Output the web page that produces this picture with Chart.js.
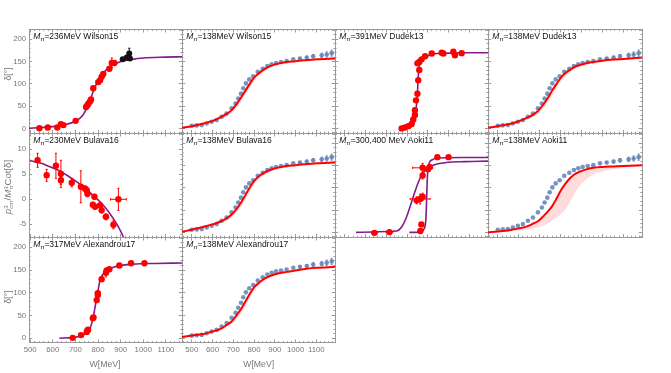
<!DOCTYPE html>
<html>
<head>
<meta charset="utf-8">
<script src="https://cdn.jsdelivr.net/npm/chart.js@4.4.0/dist/chart.umd.min.js"></script>
<style>
html, body { margin: 0; padding: 0; background: #fff; }
#wrap { position: relative; width: 671px; height: 373px; overflow: hidden; font-family: "Liberation Sans", Arial, sans-serif; }
#wrap canvas { position: absolute; left: 0; top: 0; }
.ttl { position: absolute; font-size: 8.5px; color: #111; white-space: nowrap; line-height: 1; }
.ttl sub { font-size: 70%; vertical-align: -2px; line-height: 0; }
.ax { position: absolute; font-size: 8.7px; color: #777; white-space: nowrap; line-height: 1; transform: translate(-50%, -50%); }
.ax.rot { transform: translate(-50%, -50%) rotate(-90deg); }
.ax.big { font-size: 9.6px; }
.ss { display: inline-block; vertical-align: -0.3em; line-height: 0.8; font-size: 65%; }
.ss span { display: block; }
</style>
</head>
<body>
<div id="wrap"></div>
<script>
// grid of frames (px)
var colEdges = [29, 182, 335, 488, 642];
var rowEdges = [29.3, 133.3, 237.3, 342.7];
var yLabelBox = 25, xLabelBox = 20;

// axis ranges
var wRangeCol1 = [495, 1171];
var wRangeOther = [453, 1190];
var deltaRangeUpper = [-11, 222.5];
var deltaRangeLower = [-9.7, 222];
var cotRange = [-7.6, 13.2];

// Wilson15, M_pi = 236 MeV
var wilsonW = [541, 578, 620, 636, 647, 701, 747, 753, 758, 765, 769, 779, 801, 809, 816, 823, 850, 861, 872];
var wilsonDelta = [0.5, 2, 2, 9.6, 7.4, 17, 48, 52, 56, 61, 65, 90, 104, 108, 116, 122, 134, 147, 147];
var wilsonErr = [1, 1, 1, 2, 2, 2, 3, 3, 3, 3, 3, 3, 3, 3, 3, 3, 4, 11, 5];
var wilsonHiW = [909, 927, 938, 941];
var wilsonHiDelta = [155, 159, 168, 157];
var wilsonHiErr = [4, 5, 12, 4];
var wilsonFitW = [495, 550, 600, 650, 700, 730, 750, 765, 780, 800, 820, 850, 900, 950, 1000, 1100, 1171];
var wilsonFitDelta = [0.5, 2, 4, 8, 16, 28, 45, 62, 85, 106, 122, 138, 150, 155, 158, 160, 161];

// Dudek13, M_pi = 391 MeV
var dudekW = [774, 790, 806, 822, 830, 838, 838, 843, 850, 854, 859, 850, 859, 870, 887, 919, 967, 975, 1023, 1031, 1063];
var dudekDelta = [0, 2, 5, 10, 20, 30, 41, 63, 78, 108, 131, 146, 149, 155, 162, 168, 170, 168, 172, 164, 169];
var dudekFitW = [766, 790, 814, 834, 843, 850, 854, 858, 862, 870, 887, 910, 943, 1000, 1071, 1190];
var dudekFitDelta = [0, 1, 2, 15, 41, 78, 116, 135, 146, 154, 160, 165, 168, 169, 170, 170];

// Bulava16, M_pi = 230 MeV (p^3/M^3 cot delta)
var bulavaW = [533, 573, 614, 636, 636, 684, 724, 743, 750, 753, 784, 777, 787, 809, 816, 835, 868, 890];
var bulavaCot = [7.8, 4.8, 6.7, 5.1, 3.8, 3.3, 2.5, 2.1, 1.8, 1.1, 0.5, -1.1, -1.5, -1.2, -2.2, -3.5, -5.1, 0];
var bulavaCotErr = [1.4, 1.2, 2.5, 2.7, 0.8, 0.8, 3.2, 0.6, 0.6, 0.6, 0.5, 0.5, 0.5, 0.4, 0.5, 0.6, 0.8, 2.2];
var bulavaWErr = [3, 3, 3, 3, 3, 3, 3, 3, 3, 3, 3, 4, 4, 4, 4, 12, 5, 35];
var bulavaFitW = [499, 550, 588, 630, 662, 700, 735, 770, 809, 840, 868, 890, 912];
var bulavaFitCot = [7.7, 7.2, 6.5, 5.7, 4.8, 3.7, 2.5, 1.1, -0.5, -2.1, -3.9, -5.5, -7.5];

// Aoki11, M_pi = 300 and 400 MeV
var aokiW = [643, 715, 864, 869, 846, 863, 875, 875, 875, 901, 909, 946, 1000];
var aokiDelta = [-1, 0.7, 3, 18, 72, 75, 80, 128, 145, 142, 147, 169, 169];
var aokiDeltaErr = [1, 1, 2, 3, 8, 11, 8, 8, 10, 4, 4, 2, 2];
var aokiWErr = [13, 16, 3, 3, 10, 48, 10, 5, 48, 5, 5, 5, 5];
var aoki300FitW = [554, 637, 700, 750, 774, 798, 814, 830, 849, 870, 894, 926, 990, 1080, 1190];
var aoki300FitDelta = [0, 1, 2, 3, 12, 35, 57, 80, 106, 128, 142, 151, 157, 159, 160];
var aoki400FitW = [811, 862, 883, 891, 894, 897, 901, 917, 958, 1071, 1190];
var aoki400FitDelta = [0, 0.5, 9, 31, 69, 113, 143, 162, 167, 168, 168];

// Alexandrou17, M_pi = 317 MeV
var alexW = [688, 725, 750, 753, 756, 777, 780, 794, 799, 799, 816, 835, 838, 850, 894, 946, 1005];
var alexDelta = [1, 7, 14, 17, 19, 44, 46, 84, 95, 99, 130, 144, 149, 152, 160, 165, 165];
var alexErr = [1, 1, 2, 2, 2, 3, 3, 3, 3, 3, 3, 9, 3, 3, 2, 2, 2];
var alexFitW = [629, 691, 735, 765, 779, 790, 799, 809, 831, 868, 956, 1050, 1171];
var alexFitDelta = [0, 2, 7, 22, 47, 77, 102, 128, 146, 156, 163, 164.5, 165.5];

// experimental data (shown in every M_pi = 138 MeV panel)
var exptW = [500, 524, 548, 572, 596, 620, 644, 668, 692, 711, 724, 737, 748, 761, 777, 796, 818, 842, 864, 885, 906, 930, 957, 989, 1021, 1054, 1085, 1126, 1150, 1174];
var exptDelta = [5.8, 6.7, 7.4, 11, 15, 18.6, 26, 33.6, 45, 56, 67, 78, 90, 101, 110, 117, 127, 134, 140, 144, 147, 149, 151, 155, 157, 159, 162, 164, 166, 169];
var exptErr = [0, 0, 0, 0, 0, 0, 0, 0, 0, 0, 0, 0, 0, 0, 0, 0, 0, 0, 0, 0, 0, 0, 0, 0, 1.5, 3, 4, 5, 6, 7];

// chiral extrapolations to M_pi = 138 MeV
var physW = [453, 500, 556, 600, 636, 670, 692, 715, 740, 760, 781, 800, 821, 850, 877, 920, 957, 1000, 1037, 1100, 1190];
var wilsonPhys = [1.3, 5, 11, 17, 24.6, 33, 41, 54, 71, 86, 101, 114, 123, 133, 140, 146, 149, 151, 153, 155, 157];
var wilsonPhysLo = [1, 4, 9, 14, 20, 27, 34, 45, 61, 77, 92, 106, 117, 128, 136, 143, 147, 149, 151, 154, 156];
var wilsonPhysHi = [1.5, 5.5, 12, 18, 26, 35, 44, 58, 75, 90, 104, 116, 125, 135, 141, 147, 150, 152, 154, 156, 158];
var dudekPhys = [1.5, 5, 10, 16, 23, 31, 39, 52, 69, 85, 100, 113, 123, 133, 140, 146, 149, 152, 154, 156, 159];
var dudekPhysLo = [1, 4, 8, 13, 19, 26, 32, 43, 58, 74, 89, 103, 115, 127, 135, 142, 146, 149, 151, 154, 157];
var dudekPhysHi = [2, 6, 11, 17, 25, 33, 41, 55, 72, 88, 103, 115, 125, 135, 141, 147, 150, 153, 155, 157, 160];
var bulavaPhys = [1.3, 6, 12.5, 18, 24, 32, 40, 52, 69, 85, 102, 115, 125, 134, 140, 146, 149, 151, 153, 155, 157];
var bulavaPhysLo = [1, 5, 10, 15, 20, 27, 34, 44, 59, 75, 93, 107, 119, 129, 136, 143, 147, 149, 151, 154, 156];
var bulavaPhysHi = [1.6, 6.5, 13, 19, 26, 34, 43, 56, 73, 89, 105, 117, 127, 136, 141, 147, 150, 152, 154, 156, 158];
var aokiPhys = [0, 2, 5, 9, 13, 20, 25, 35, 47, 59, 76, 93, 108, 124, 133, 141, 145, 147, 148, 149, 151];
var aokiPhysLo = [0, 1, 2, 4, 6, 9, 11, 15, 20, 26, 33, 41, 50, 72, 95, 118, 130, 136, 140, 145, 148];
var aokiPhysHi = [0.5, 2.5, 6, 10, 14, 21, 27, 37, 50, 62, 79, 96, 110, 126, 135, 142, 146, 148, 149, 150, 152];
var alexPhys = [3, 6, 9.5, 15, 20, 30, 37, 50, 66, 82, 99, 112, 121, 131, 137, 143, 146, 149, 152, 155, 157];
var alexPhysLo = [2.5, 5, 8, 13, 17, 25, 31, 42, 56, 72, 90, 104, 115, 126, 134, 141, 145, 148, 151, 154, 156];
var alexPhysHi = [3.5, 6.5, 10.5, 16, 22, 32, 40, 54, 70, 86, 102, 114, 123, 133, 138, 144, 147, 150, 153, 156, 158];

var RED = '#ff0000', PURPLE = '#861a8c', BLACK = '#111111', BLUE = 'rgba(94,129,181,0.85)';
var FRAME = '#9a9a9a', TICKTXT = '#777777';

Chart.defaults.font.family = '"Liberation Sans", Arial, sans-serif';

function pts(ws, vs) {
	return ws.map(function (w, i) { return {x: w, y: vs[i]}; });
}
function curve(ws, vs, color, width, order) {
	return [{data: pts(ws, vs), showLine: true, borderColor: color, borderWidth: width, pointRadius: 0,
		cubicInterpolationMode: 'monotone', fill: false, order: order}];
}
function dots(ws, vs, color, r, order) {
	return [{data: pts(ws, vs), showLine: false, pointRadius: r, pointBackgroundColor: color,
		pointBorderWidth: 0, pointBorderColor: color, order: order}];
}
// error bars as line segments separated by gaps
function vbars(ws, vs, es, color, cap, order) {
	var d = [];
	for (var i = 0; i < ws.length; i++) {
		if (!es[i]) continue;
		d.push({x: ws[i], y: vs[i] - es[i]}, {x: ws[i], y: vs[i] + es[i]}, {x: ws[i], y: null});
		d.push({x: ws[i] - cap, y: vs[i] + es[i]}, {x: ws[i] + cap, y: vs[i] + es[i]}, {x: ws[i], y: null});
		d.push({x: ws[i] - cap, y: vs[i] - es[i]}, {x: ws[i] + cap, y: vs[i] - es[i]}, {x: ws[i], y: null});
	}
	return [{data: d, showLine: true, spanGaps: false, borderColor: color, borderWidth: 1, pointRadius: 0, order: order}];
}
function hbars(ws, vs, es, color, cap, order) {
	var d = [];
	for (var i = 0; i < ws.length; i++) {
		if (!es[i]) continue;
		d.push({x: ws[i] - es[i], y: vs[i]}, {x: ws[i] + es[i], y: vs[i]}, {x: ws[i], y: null});
		d.push({x: ws[i] - es[i], y: vs[i] - cap}, {x: ws[i] - es[i], y: vs[i] + cap}, {x: ws[i], y: null});
		d.push({x: ws[i] + es[i], y: vs[i] - cap}, {x: ws[i] + es[i], y: vs[i] + cap}, {x: ws[i], y: null});
	}
	return [{data: d, showLine: true, spanGaps: false, borderColor: color, borderWidth: 1, pointRadius: 0, order: order}];
}
function band(ws, lo, hi, order) {
	return [
		{data: pts(ws, lo), showLine: true, borderWidth: 0, borderColor: 'transparent', pointRadius: 0,
			cubicInterpolationMode: 'monotone', fill: false, order: order},
		{data: pts(ws, hi), showLine: true, borderWidth: 0, borderColor: 'transparent', pointRadius: 0,
			cubicInterpolationMode: 'monotone', fill: '-1', backgroundColor: 'rgba(255,40,40,0.16)', order: order}
	];
}
function physSets(fit, lo, hi) {
	return [].concat(
		band(physW, lo, hi, 6),
		vbars(exptW, exptDelta, exptErr, BLUE, 5, 4),
		dots(exptW, exptDelta, BLUE, 2.3, 3),
		curve(physW, fit, RED, 2, 1)
	);
}

var panels = [
	{col: 0, row: 0, wr: wRangeCol1, yr: deltaRangeUpper, yStep: 50, xLab: false, yLab: true, title: '236MeV Wilson15',
		sets: [].concat(dots(wilsonW, wilsonDelta, RED, 3.2, 1), vbars(wilsonW, wilsonDelta, wilsonErr, RED, 5, 2),
			dots(wilsonHiW, wilsonHiDelta, BLACK, 3, 1), vbars(wilsonHiW, wilsonHiDelta, wilsonHiErr, BLACK, 5, 2),
			curve(wilsonFitW, wilsonFitDelta, PURPLE, 1.6, 3))},
	{col: 1, row: 0, wr: wRangeOther, yr: deltaRangeUpper, yStep: 50, xLab: false, yLab: false, title: '138MeV Wilson15',
		sets: physSets(wilsonPhys, wilsonPhysLo, wilsonPhysHi)},
	{col: 2, row: 0, wr: wRangeOther, yr: deltaRangeUpper, yStep: 50, xLab: false, yLab: false, title: '391MeV Dudek13',
		sets: [].concat(dots(dudekW, dudekDelta, RED, 3.2, 1), curve(dudekFitW, dudekFitDelta, PURPLE, 1.6, 3))},
	{col: 3, row: 0, wr: wRangeOther, yr: deltaRangeUpper, yStep: 50, xLab: false, yLab: false, title: '138MeV Dudek13',
		sets: physSets(dudekPhys, dudekPhysLo, dudekPhysHi)},
	{col: 0, row: 1, wr: wRangeCol1, yr: cotRange, yStep: 5, xLab: false, yLab: true, title: '230MeV Bulava16',
		sets: [].concat(dots(bulavaW, bulavaCot, RED, 3.2, 1), vbars(bulavaW, bulavaCot, bulavaCotErr, RED, 5, 2),
			hbars(bulavaW, bulavaCot, bulavaWErr, RED, 0.25, 2), curve(bulavaFitW, bulavaFitCot, PURPLE, 1.6, 3))},
	{col: 1, row: 1, wr: wRangeOther, yr: deltaRangeUpper, yStep: 50, xLab: false, yLab: false, title: '138MeV Bulava16',
		sets: physSets(bulavaPhys, bulavaPhysLo, bulavaPhysHi)},
	{col: 2, row: 1, wr: wRangeOther, yr: deltaRangeUpper, yStep: 50, xLab: false, yLab: false, title: '300,400 MeV Aoki11',
		sets: [].concat(dots(aokiW, aokiDelta, RED, 3.2, 1), vbars(aokiW, aokiDelta, aokiDeltaErr, RED, 5, 2),
			hbars(aokiW, aokiDelta, aokiWErr, RED, 2.5, 2),
			curve(aoki300FitW, aoki300FitDelta, PURPLE, 1.6, 3), curve(aoki400FitW, aoki400FitDelta, PURPLE, 1.6, 3))},
	{col: 3, row: 1, wr: wRangeOther, yr: deltaRangeUpper, yStep: 50, xLab: false, yLab: false, title: '138MeV Aoki11',
		sets: physSets(aokiPhys, aokiPhysLo, aokiPhysHi)},
	{col: 0, row: 2, wr: wRangeCol1, yr: deltaRangeLower, yStep: 50, xLab: true, yLab: true, title: '317MeV Alexandrou17',
		sets: [].concat(dots(alexW, alexDelta, RED, 3.2, 1), vbars(alexW, alexDelta, alexErr, RED, 5, 2),
			curve(alexFitW, alexFitDelta, PURPLE, 1.6, 3))},
	{col: 1, row: 2, wr: wRangeOther, yr: deltaRangeLower, yStep: 50, xLab: true, yLab: false, title: '138MeV Alexandrou17',
		sets: physSets(alexPhys, alexPhysLo, alexPhysHi)}
];

// labelled axes get a fixed box so their labels are not clipped; all others are zero-size
function axis(pos, range, step, minor, labels) {
	var box = labels ? (pos === 'left' ? yLabelBox : xLabelBox) : 0;
	return {
		type: 'linear', position: pos, min: range[0], max: range[1], weight: labels ? 1 : 0,
		afterFit: function (s) { if (s.isHorizontal()) s.height = box; else s.width = box; },
		border: {display: !minor, color: FRAME, width: 1},
		grid: {drawOnChartArea: false, drawTicks: true, tickLength: minor ? -1.6 : -3.2, color: FRAME, tickWidth: 1},
		ticks: {display: labels, stepSize: minor ? step / 5 : step, autoSkip: false, includeBounds: false,
			maxTicksLimit: 1000, maxRotation: 0, padding: 6, color: TICKTXT, font: {size: 7.8},
			callback: function (v) { return String(v); }}
	};
}

var wrap = document.getElementById('wrap');
panels.forEach(function (p) {
	var x0 = colEdges[p.col], x1 = colEdges[p.col + 1], y0 = rowEdges[p.row], y1 = rowEdges[p.row + 1];
	var padL = x0 - (p.yLab ? yLabelBox : 0), padB = 373 - y1 - (p.xLab ? xLabelBox : 0);
	var cv = document.createElement('canvas');
	cv.width = 671; cv.height = 373;
	wrap.appendChild(cv);
	new Chart(cv, {
		type: 'scatter',
		data: {datasets: p.sets},
		options: {
			responsive: false, animation: false, events: [],
			layout: {padding: {left: padL, top: y0, right: 671 - x1, bottom: padB}},
			plugins: {legend: {display: false}, tooltip: {enabled: false}},
			scales: {
				x: axis('bottom', p.wr, 100, false, p.xLab),
				xt: axis('top', p.wr, 100, false, false),
				xm: axis('bottom', p.wr, 100, true, false),
				xmt: axis('top', p.wr, 100, true, false),
				y: axis('left', p.yr, p.yStep, false, p.yLab),
				yr: axis('right', p.yr, p.yStep, false, false),
				ym: axis('left', p.yr, p.yStep, true, false),
				ymr: axis('right', p.yr, p.yStep, true, false)
			}
		}
	});
	var t = document.createElement('div');
	t.className = 'ttl';
	t.style.left = (x0 + 4.3) + 'px';
	t.style.top = (y0 + 2.3) + 'px';
	t.innerHTML = '<i>M</i><sub><i>\u03c0</i></sub>=' + p.title;
	wrap.appendChild(t);
});

function label(html, x, y, cls) {
	var d = document.createElement('div');
	d.className = 'ax ' + cls;
	d.style.left = x + 'px';
	d.style.top = y + 'px';
	d.innerHTML = html;
	wrap.appendChild(d);
}
label('\u03b4[\u00b0]', 8, 74, 'rot');
label('<i>p</i><span class="ss"><span>3</span><span>cm</span></span>/<i>M</i><span class="ss"><span>3</span><span>\u03c0</span></span>Cot[\u03b4]', 8, 187, 'rot big');
label('\u03b4[\u00b0]', 8, 297, 'rot');
label('W[MeV]', 105, 363.5, '');
label('W[MeV]', 258.7, 363.5, '');
</script>
</body>
</html>
